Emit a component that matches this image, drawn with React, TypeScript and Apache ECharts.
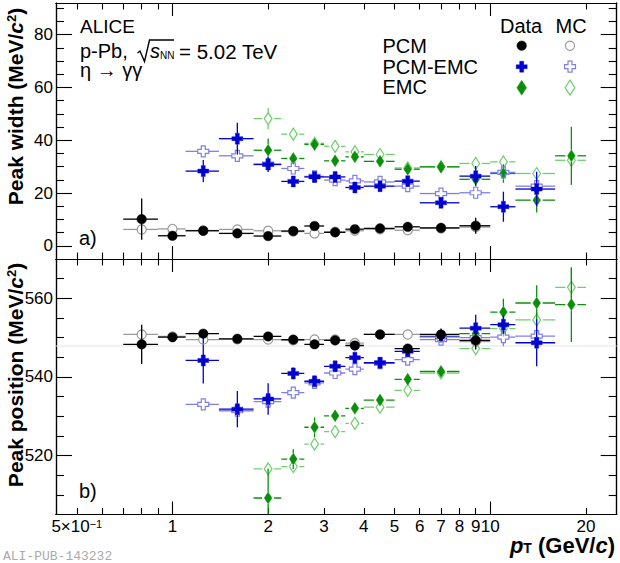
import React, { useEffect, useRef } from "react";
import * as echarts from "echarts";

// ---------- pT bins (GeV/c) ----------
const PCM_PT = [0.8, 1.0, 1.25, 1.6, 2.0, 2.4, 2.8, 3.25, 3.75, 4.5, 5.5, 7, 9];
const PCM_LO = [0.7, 0.9, 1.1, 1.4, 1.8, 2.2, 2.6, 3.0, 3.5, 4.0, 5.0, 6.0, 8.0];
const PCM_HI = [0.9, 1.1, 1.4, 1.8, 2.2, 2.6, 3.0, 3.5, 4.0, 5.0, 6.0, 8.0, 10];
const PCMEMC_PT = [1.25, 1.6, 2.0, 2.4, 2.8, 3.25, 3.75, 4.5, 5.5, 7, 9, 11, 14];
const PCMEMC_LO = [1.1, 1.4, 1.8, 2.2, 2.6, 3.0, 3.5, 4.0, 5.0, 6.0, 8.0, 10, 12];
const PCMEMC_HI = [1.4, 1.8, 2.2, 2.6, 3.0, 3.5, 4.0, 5.0, 6.0, 8.0, 10, 12, 16];
const EMC_PT = [2.0, 2.4, 2.8, 3.25, 3.75, 4.5, 5.5, 7, 9, 11, 14, 18];
const EMC_LO = [1.8, 2.2, 2.6, 3.0, 3.5, 4.0, 5.0, 6.0, 8.0, 10, 12, 16];
const EMC_HI = [2.2, 2.6, 3.0, 3.5, 4.0, 5.0, 6.0, 8.0, 10, 12, 16, 20];

// ---------- a) peak width (MeV/c^2) ----------
const PCM_DATA_WIDTH = [10.1, 3.8, 5.7, 4.7, 3.7, 5.6, 7.5, 5.1, 6.3, 6.6, 7.2, 6.8, 7.6];
const PCM_DATA_WIDTH_ERR = [7.8, 1.0, 0.6, 0.6, 0.6, 0.5, 0.8, 0.6, 0.6, 0.6, 1.0, 1.0, 3.0];
const PCM_MC_WIDTH = [6.2, 6.4, 5.8, 6.2, 5.7, 5.4, 4.7, 5.3, 5.7, 6.3, 5.9, 6.6, 7.1];
const PCM_MC_WIDTH_ERR = [0.5, 0.3, 0.3, 0.3, 0.3, 0.3, 0.3, 0.3, 0.3, 0.3, 0.4, 0.5, 0.8];

const PCMEMC_DATA_WIDTH = [28.3, 40.6, 30.8, 24.4, 26.1, 26.1, 22.1, 22.6, 24.5, 16.3, 26.4, 14.8, 21.5];
const PCMEMC_DATA_WIDTH_ERR = [4.2, 6.0, 2.8, 1.2, 1.5, 1.5, 1.3, 1.3, 1.8, 1.8, 3.8, 5.7, 6.6];
const PCMEMC_MC_WIDTH = [35.8, 34.1, 31.0, 29.3, 26.3, 24.9, 24.6, 24.2, 22.6, 19.8, 20.1, 27.8, 22.6];
const PCMEMC_MC_WIDTH_ERR = [1.0, 1.0, 0.8, 0.8, 0.7, 0.7, 0.7, 0.7, 0.8, 0.8, 1.0, 1.5, 1.8];

const EMC_DATA_WIDTH = [36.2, 33.1, 38.4, 32.2, 33.7, 32.0, 29.0, 29.9, 25.2, 27.4, 17.3, 34.1];
const EMC_DATA_WIDTH_ERR = [4.5, 2.0, 1.5, 1.5, 1.5, 1.5, 1.5, 1.5, 2.0, 3.5, 4.7, 11.0];
const EMC_MC_WIDTH = [48.2, 42.3, 38.8, 37.7, 35.6, 34.6, 29.5, 30.0, 31.2, 31.8, 27.4, 32.4];
const EMC_MC_WIDTH_ERR = [4.0, 1.5, 1.2, 1.0, 1.0, 1.0, 1.0, 1.0, 1.2, 1.5, 1.8, 2.5];

// ---------- b) peak position (MeV/c^2) ----------
const PCM_DATA_MASS = [548.3, 550.1, 551.0, 549.7, 550.3, 549.5, 548.3, 549.3, 548.0, 550.8, 547.2, 550.8, 549.3];
const PCM_DATA_MASS_ERR = [5.0, 0.8, 0.6, 0.6, 0.6, 0.6, 0.6, 0.6, 0.7, 0.8, 1.2, 1.5, 2.3];
const PCM_MC_MASS = [550.8, 550.3, 549.5, 549.6, 549.5, 549.3, 549.5, 549.5, 548.6, 550.8, 550.8, 550.1, 549.0];
const PCM_MC_MASS_ERR = [0.5, 0.3, 0.3, 0.3, 0.3, 0.3, 0.3, 0.3, 0.3, 0.3, 0.4, 0.5, 0.7];

const PCMEMC_DATA_MASS = [544.2, 531.8, 534.4, 540.9, 538.9, 542.7, 544.9, 543.6, 546.5, 550.3, 552.4, 553.3, 548.7];
const PCMEMC_DATA_MASS_ERR = [5.9, 4.6, 4.0, 1.5, 1.2, 1.3, 1.5, 1.3, 1.5, 1.5, 3.4, 2.3, 6.0];
const PCMEMC_MC_MASS = [533.0, 531.4, 533.7, 536.0, 538.5, 541.0, 542.0, 543.5, 544.4, 549.5, 550.0, 550.1, 550.4];
const PCMEMC_MC_MASS_ERR = [0.8, 1.0, 1.0, 0.8, 0.7, 0.7, 0.7, 0.7, 0.8, 1.0, 1.2, 2.3, 1.8];

const EMC_DATA_MASS = [509.2, 519.1, 527.2, 530.1, 532.0, 534.1, 539.4, 541.4, 551.0, 556.5, 558.8, 558.4];
const EMC_DATA_MASS_ERR = [7.5, 2.5, 2.5, 1.5, 1.5, 1.5, 1.3, 1.0, 2.0, 3.4, 4.5, 9.5];
const EMC_MC_MASS = [516.6, 517.2, 522.9, 526.1, 528.2, 532.3, 536.6, 541.0, 547.2, 552.3, 554.5, 562.8];
const EMC_MC_MASS_ERR = [1.5, 1.0, 1.0, 1.0, 1.0, 1.0, 1.0, 1.0, 1.5, 2.0, 2.0, 4.8];

const ETA_PDG_MASS = 547.86;

// ---------- axes ----------
const X_MIN = 0.43;
const X_MAX = 25;
const X_MAJOR_TICKS = [1, 10];
const X_MINOR_TICKS = [0.5, 0.6, 0.7, 0.8, 0.9, 2, 3, 4, 5, 6, 7, 8, 9, 20];
const X_LABELS = [0.5, 1, 2, 3, 4, 5, 6, 7, 8, 9, 10, 20];
const W_MIN = -5;
const W_MAX = 92;
const W_MAJOR = [0, 20, 40, 60, 80];
const W_MINOR = [5, 10, 15, 25, 30, 35, 45, 50, 55, 65, 70, 75, 85, 90];
const M_MIN = 505;
const M_MAX = 570;
const M_MAJOR = [520, 540, 560];
const M_MINOR = [510, 515, 525, 530, 535, 545, 550, 555, 565];

const FONT = "'Liberation Sans', Arial, Helvetica, sans-serif";
const C_PCM = "#000000";
const C_PCM_MC = "#9a9a9a";
const C_PCMEMC = "#0000d0";
const C_PCMEMC_MC = "#7f7fe8";
const C_EMC = "#0b8f0b";
const C_EMC_MC = "#6fcf6f";

const LX = (v: number) => Math.log10(v);

const GAP: Record<string, number> = { circle: 4.5, cross: 5.5, diamond: 6 };

function markerEl(shape: string, cx: number, cy: number, color: string, open: boolean, scale = 1) {
  const style = open
    ? { fill: "none", stroke: color, lineWidth: 1.2 }
    : { fill: color, stroke: color, lineWidth: 0.4 };
  if (shape === "circle") {
    return { type: "circle", shape: { cx, cy, r: (open ? 4.6 : 4.8) * scale }, style };
  }
  let pts: number[][];
  if (shape === "cross") {
    const a = 5.5 * scale, t = 2 * scale;
    pts = [[-t, -a], [t, -a], [t, -t], [a, -t], [a, t], [t, t], [t, a], [-t, a], [-t, t], [-a, t], [-a, -t], [-t, -t]];
  } else {
    const w = 3.9 * scale, h = 6 * scale;
    pts = [[0, -h], [w, 0], [0, h], [-w, 0]];
  }
  return { type: "polygon", shape: { points: pts.map((p) => [cx + p[0], cy + p[1]]) }, style };
}

function makeRender(shape: string, color: string, open: boolean) {
  return (params: any, api: any) => {
    const x = api.value(0), y = api.value(1), xl = api.value(2), xh = api.value(3), e = api.value(4);
    const c = api.coord([x, y]);
    const pl = api.coord([xl, y]);
    const ph = api.coord([xh, y]);
    const pt = api.coord([x, y + e]);
    const pb = api.coord([x, y - e]);
    const g = GAP[shape];
    const ls = { stroke: color, lineWidth: 1.3 };
    const children: any[] = [];
    if (c[0] - g > pl[0]) children.push({ type: "line", shape: { x1: pl[0], y1: c[1], x2: c[0] - g, y2: c[1] }, style: ls });
    if (ph[0] > c[0] + g) children.push({ type: "line", shape: { x1: c[0] + g, y1: c[1], x2: ph[0], y2: c[1] }, style: ls });
    if (c[1] - g > pt[1]) children.push({ type: "line", shape: { x1: c[0], y1: pt[1], x2: c[0], y2: c[1] - g }, style: ls });
    if (pb[1] > c[1] + g) children.push({ type: "line", shape: { x1: c[0], y1: c[1] + g, x2: c[0], y2: pb[1] }, style: ls });
    children.push(markerEl(shape, c[0], c[1], color, open));
    return { type: "group", children };
  };
}

function rows(pt: number[], lo: number[], hi: number[], v: number[], e: number[]) {
  return pt.map((p, i) => [LX(p), v[i], LX(lo[i]), LX(hi[i]), e[i]]);
}

const DATASETS = [
  { shape: "diamond", color: C_EMC_MC, open: true, pt: EMC_PT, lo: EMC_LO, hi: EMC_HI, w: EMC_MC_WIDTH, we: EMC_MC_WIDTH_ERR, m: EMC_MC_MASS, me: EMC_MC_MASS_ERR },
  { shape: "diamond", color: C_EMC, open: false, pt: EMC_PT, lo: EMC_LO, hi: EMC_HI, w: EMC_DATA_WIDTH, we: EMC_DATA_WIDTH_ERR, m: EMC_DATA_MASS, me: EMC_DATA_MASS_ERR },
  { shape: "cross", color: C_PCMEMC_MC, open: true, pt: PCMEMC_PT, lo: PCMEMC_LO, hi: PCMEMC_HI, w: PCMEMC_MC_WIDTH, we: PCMEMC_MC_WIDTH_ERR, m: PCMEMC_MC_MASS, me: PCMEMC_MC_MASS_ERR },
  { shape: "cross", color: C_PCMEMC, open: false, pt: PCMEMC_PT, lo: PCMEMC_LO, hi: PCMEMC_HI, w: PCMEMC_DATA_WIDTH, we: PCMEMC_DATA_WIDTH_ERR, m: PCMEMC_DATA_MASS, me: PCMEMC_DATA_MASS_ERR },
  { shape: "circle", color: C_PCM_MC, open: true, pt: PCM_PT, lo: PCM_LO, hi: PCM_HI, w: PCM_MC_WIDTH, we: PCM_MC_WIDTH_ERR, m: PCM_MC_MASS, me: PCM_MC_MASS_ERR },
  { shape: "circle", color: C_PCM, open: false, pt: PCM_PT, lo: PCM_LO, hi: PCM_HI, w: PCM_DATA_WIDTH, we: PCM_DATA_WIDTH_ERR, m: PCM_DATA_MASS, me: PCM_DATA_MASS_ERR },
];

const AXIS_LINE = { show: true, onZero: false, lineStyle: { color: "#000", width: 1.2 } };

function xLabelFormatter(val: number) {
  const v = Math.pow(10, val);
  if (Math.abs(v - 0.5) < 0.01) return "5×10{sup|−1}";
  return String(Math.round(v));
}

function xAxis(grid: number, position: string, ticks: number[], len: number, labels: number[] | null) {
  return {
    type: "value",
    gridIndex: grid,
    position,
    min: LX(X_MIN),
    max: LX(X_MAX),
    axisLine: AXIS_LINE,
    axisTick: { show: true, inside: true, length: len, customValues: ticks.map(LX), lineStyle: { color: "#000", width: 1.1 } },
    axisLabel: labels
      ? {
          show: true,
          customValues: labels.map(LX),
          formatter: xLabelFormatter,
          margin: 4,
          color: "#000",
          fontSize: 17,
          lineHeight: 15,
          fontFamily: FONT,
          rich: { sup: { fontSize: 11, fontFamily: FONT, color: "#000", verticalAlign: "top", lineHeight: 9 } },
        }
      : { show: false },
    splitLine: { show: false },
  };
}

function yAxis(grid: number, position: string, min: number, max: number, ticks: number[], len: number, labels: number[] | null) {
  return {
    type: "value",
    gridIndex: grid,
    position,
    min,
    max,
    axisLine: AXIS_LINE,
    axisTick: { show: true, inside: true, length: len, customValues: ticks, lineStyle: { color: "#000", width: 1.1 } },
    axisLabel: labels
      ? { show: true, customValues: labels, margin: 3, color: "#000", fontSize: 17, fontFamily: FONT }
      : { show: false },
    splitLine: { show: false },
  };
}

function text(x: number, y: number, t: string, extra: any = {}) {
  return {
    type: "text",
    x,
    y,
    z: 100,
    style: {
      text: t,
      fill: "#000",
      fontSize: 20,
      lineHeight: 18,
      fontFamily: FONT,
      align: "left",
      verticalAlign: "middle",
      textAlign: "left",
      textVerticalAlign: "middle",
      ...extra,
    },
  };
}

function buildOption() {
  const series: any[] = [];
  // PDG eta mass reference line (panel b)
  series.push({
    type: "line",
    xAxisIndex: 4,
    yAxisIndex: 4,
    data: [[LX(X_MIN), ETA_PDG_MASS], [LX(X_MAX), ETA_PDG_MASS]],
    symbol: "none",
    silent: true,
    lineStyle: { color: "#e4e4e4", width: 1 },
    z: 1,
  });
  DATASETS.forEach((d) => {
    series.push({
      type: "custom",
      xAxisIndex: 0,
      yAxisIndex: 0,
      clip: true,
      encode: { x: 0, y: 1 },
      data: rows(d.pt, d.lo, d.hi, d.w, d.we),
      renderItem: makeRender(d.shape, d.color, d.open),
      z: 2,
    });
    series.push({
      type: "custom",
      xAxisIndex: 4,
      yAxisIndex: 4,
      clip: true,
      encode: { x: 0, y: 1 },
      data: rows(d.pt, d.lo, d.hi, d.m, d.me),
      renderItem: makeRender(d.shape, d.color, d.open),
      z: 2,
    });
  });

  const bold = { fontWeight: "bold", fontFamily: FONT, fontSize: 21 };
  const graphics: any[] = [
    // y-axis titles
    {
      type: "text",
      x: 15,
      y: 106.5,
      rotation: Math.PI / 2,
      z: 100,
      style: {
        text: "{b|Peak width (MeV/}{bi|c}{sup|2}{b|)}",
        fill: "#000",
        align: "center",
        verticalAlign: "middle",
        textAlign: "center",
        textVerticalAlign: "middle",
        rich: {
          b: { ...bold },
          bi: { ...bold, fontStyle: "italic" },
          sup: { fontWeight: "bold", fontFamily: FONT, fontSize: 13, verticalAlign: "top", lineHeight: 13 },
        },
      },
    },
    {
      type: "text",
      x: 15,
      y: 375,
      rotation: Math.PI / 2,
      z: 100,
      style: {
        text: "{b|Peak position (MeV/}{bi|c}{sup|2}{b|)}",
        fill: "#000",
        align: "center",
        verticalAlign: "middle",
        textAlign: "center",
        textVerticalAlign: "middle",
        rich: {
          b: { ...bold },
          bi: { ...bold, fontStyle: "italic" },
          sup: { fontWeight: "bold", fontFamily: FONT, fontSize: 13, verticalAlign: "top", lineHeight: 13 },
        },
      },
    },
    // x-axis title
    {
      type: "text",
      x: 615,
      y: 545.5,
      z: 100,
      style: {
        text: "{bi|p}{sub|T}{b| (GeV/}{bi|c}{b|)}",
        fill: "#000",
        align: "right",
        verticalAlign: "middle",
        textAlign: "right",
        textVerticalAlign: "middle",
        rich: {
          b: { fontWeight: "bold", fontFamily: FONT, fontSize: 22, lineHeight: 18 },
          bi: { fontWeight: "bold", fontFamily: FONT, fontSize: 22, fontStyle: "italic", lineHeight: 18 },
          sub: { fontWeight: "bold", fontFamily: FONT, fontSize: 14, verticalAlign: "bottom", lineHeight: 6 },
        },
      },
    },
    // ALICE block
    text(80, 26.3, "ALICE", { fontSize: 19 }),
    text(80, 51.3, "p-Pb,"),
    {
      type: "polyline",
      z: 100,
      shape: { points: [[137.5, 53], [140, 51], [144.5, 61.5], [149.5, 40], [174, 40]] },
      style: { stroke: "#000", lineWidth: 1.4, fill: "none" },
    },
    {
      type: "text",
      x: 150,
      y: 51.3,
      z: 100,
      style: {
        text: "{it|s}{sub|NN}",
        fill: "#000",
        align: "left",
        verticalAlign: "middle",
        textAlign: "left",
        textVerticalAlign: "middle",
        rich: {
          it: { fontFamily: FONT, fontSize: 20, fontStyle: "italic", lineHeight: 18 },
          sub: { fontFamily: FONT, fontSize: 10, verticalAlign: "bottom", lineHeight: 7 },
        },
      },
    },
    text(179, 51.3, "= 5.02 TeV", { fontSize: 20.5 }),
    text(80, 70, "η → γγ"),
    // panel tags
    text(79, 238, "a)"),
    text(79, 491, "b)"),
    // legend
    text(500, 25.7, "Data"),
    text(555.5, 25.7, "MC"),
    text(382.5, 46.3, "PCM"),
    text(382.5, 67, "PCM-EMC"),
    text(382.5, 87.3, "EMC"),
    { ...markerEl("circle", 521.7, 45.7, C_PCM, false), z: 100 },
    { ...markerEl("circle", 570, 45.7, C_PCM_MC, true), z: 100 },
    { ...markerEl("cross", 521.7, 66.7, C_PCMEMC, false), z: 100 },
    { ...markerEl("cross", 570, 66.7, C_PCMEMC_MC, true), z: 100 },
    { ...markerEl("diamond", 521.7, 87.7, C_EMC, false, 1.25), z: 100 },
    { ...markerEl("diamond", 570, 87.7, C_EMC_MC, true, 1.25), z: 100 },
    // publication id
    text(3, 556, "ALI-PUB-143232", { fontSize: 13, lineHeight: 13, fontFamily: "'Liberation Mono', 'DejaVu Sans Mono', monospace", fill: "#aaaaaa" }),
  ];

  return {
    animation: false,
    backgroundColor: "#ffffff",
    grid: [
      { left: 56, right: 3.3, top: 3, height: 256, outerBoundsMode: "none", containLabel: false },
      { left: 56, right: 3.3, top: 259, height: 255.5, outerBoundsMode: "none", containLabel: false },
    ],
    xAxis: [
      xAxis(0, "bottom", X_MAJOR_TICKS, 13, null),
      xAxis(0, "bottom", X_MINOR_TICKS, 6.5, null),
      xAxis(0, "top", X_MAJOR_TICKS, 13, null),
      xAxis(0, "top", X_MINOR_TICKS, 6.5, null),
      xAxis(1, "bottom", X_MAJOR_TICKS, 13, null),
      xAxis(1, "bottom", X_MINOR_TICKS, 6.5, X_LABELS),
      xAxis(1, "top", X_MAJOR_TICKS, 13, null),
      xAxis(1, "top", X_MINOR_TICKS, 6.5, null),
    ],
    yAxis: [
      yAxis(0, "left", W_MIN, W_MAX, W_MAJOR, 16, W_MAJOR),
      yAxis(0, "left", W_MIN, W_MAX, W_MINOR, 8, null),
      yAxis(0, "right", W_MIN, W_MAX, W_MAJOR, 16, null),
      yAxis(0, "right", W_MIN, W_MAX, W_MINOR, 8, null),
      yAxis(1, "left", M_MIN, M_MAX, M_MAJOR, 16, M_MAJOR),
      yAxis(1, "left", M_MIN, M_MAX, M_MINOR, 8, null),
      yAxis(1, "right", M_MIN, M_MAX, M_MAJOR, 16, null),
      yAxis(1, "right", M_MIN, M_MAX, M_MINOR, 8, null),
    ],
    series,
    graphic: { elements: graphics },
  };
}

export default function App() {
  const ref = useRef<HTMLDivElement>(null);
  useEffect(() => {
    document.body.style.margin = "0";
    const chart = echarts.init(ref.current as HTMLDivElement, null, { renderer: "svg" });
    chart.setOption(buildOption() as any);
    return () => chart.dispose();
  }, []);
  return <div ref={ref} style={{ width: 620, height: 563, background: "#fff" }} />;
}
